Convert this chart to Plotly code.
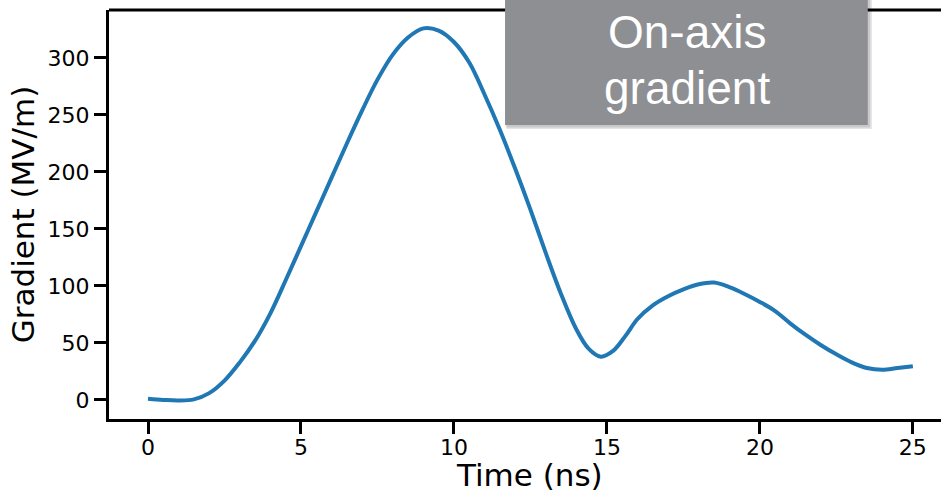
import plotly.graph_objects as go

# On-axis accelerating gradient versus time
time_ns = [0, 0.5, 1, 1.5, 2, 2.5, 3, 3.5, 4, 4.5, 5, 5.5, 6, 6.5, 7, 7.5, 8, 8.5,
           9, 9.5, 10, 10.5, 11, 11.5, 12, 12.5, 13, 13.5, 14, 14.4, 14.8, 15.2,
           15.6, 16, 16.5, 17, 17.5, 18, 18.5, 19, 19.5, 20, 20.5, 21, 21.5, 22,
           22.5, 23, 23.5, 24, 24.5, 25]
gradient_mvm = [1, 0, -0.5, 0.5, 6, 17, 33, 52, 76, 105, 135, 165, 195, 225, 254,
                281, 303, 318, 326, 324, 314, 296, 268, 237, 203, 167, 129, 93, 62,
                45, 38, 43, 56, 71, 83, 91, 97, 101.5, 103, 99, 93, 86, 78, 67, 57,
                48, 40, 33, 28, 26.5, 28, 29.5]

x_ticks = [0, 5, 10, 15, 20, 25]
y_ticks = [0, 50, 100, 150, 200, 250, 300]

fig = go.Figure()
fig.add_trace(go.Scatter(
    x=time_ns, y=gradient_mvm, mode="lines",
    line=dict(color="#1f77b4", width=4, shape="spline", smoothing=1.0),
    showlegend=False, hoverinfo="skip",
))

axis_font = dict(family="DejaVu Sans", size=22, color="black")
title_font = dict(family="DejaVu Sans", size=31, color="black")
label_font = dict(family="Liberation Sans, Arial", size=46, color="white")

fig.update_layout(
    width=941, height=492,
    margin=dict(l=109, r=0, t=10, b=73),
    paper_bgcolor="white", plot_bgcolor="white",
    xaxis=dict(
        range=[-1.275, 25.92], tickvals=x_ticks, ticks="outside", ticklen=12,
        tickwidth=3, tickcolor="black", showline=True, linewidth=3,
        linecolor="black", showgrid=False, zeroline=False, tickfont=axis_font,
        ticklabelstandoff=-5,
    ),
    yaxis=dict(
        range=[-16.7, 342.1], tickvals=y_ticks, ticks="outside", ticklen=12,
        tickwidth=3, tickcolor="black", showline=True, linewidth=3,
        linecolor="black", showgrid=False, zeroline=False, tickfont=axis_font,
        title=dict(text="Gradient (MV/m)", font=title_font, standoff=4),
    ),
    shapes=[
        # top frame line
        dict(type="line", xref="paper", yref="paper", x0=0, x1=1, y0=1, y1=1,
             line=dict(color="black", width=3), layer="above"),
        # soft shadow behind the label box
        dict(type="rect", xref="paper", yref="paper", x0=0.478, x1=0.917,
             y0=0.709, y1=1.05, fillcolor="rgba(0,0,0,0.10)", line_width=0,
             layer="above"),
        dict(type="rect", xref="paper", yref="paper", x0=0.477, x1=0.915,
             y0=0.713, y1=1.05, fillcolor="rgba(0,0,0,0.12)", line_width=0,
             layer="above"),
        # label box
        dict(type="rect", xref="paper", yref="paper", x0=0.476, x1=0.912,
             y0=0.719, y1=1.05, fillcolor="#8e8f93", line_width=0,
             layer="above"),
    ],
    annotations=[
        dict(text="Time (ns)", xref="paper", yref="paper", x=0.506, y=-0.136,
             xanchor="center", yanchor="middle", showarrow=False,
             font=title_font),
        dict(text="On-axis", xref="paper", yref="paper", x=0.695, y=0.946,
             xanchor="center", yanchor="middle", showarrow=False,
             font=label_font),
        dict(text="gradient", xref="paper", yref="paper", x=0.695, y=0.809,
             xanchor="center", yanchor="middle", showarrow=False,
             font=label_font),
    ],
)

fig.write_html("out.html")
